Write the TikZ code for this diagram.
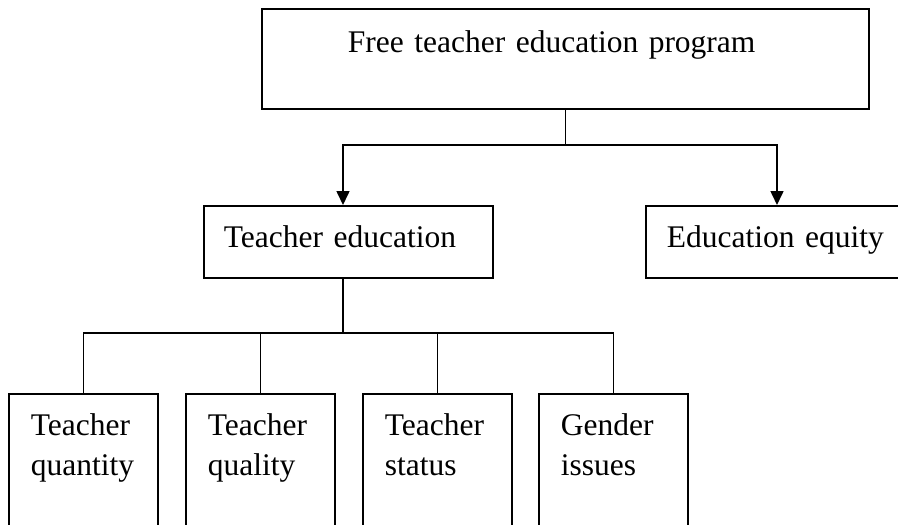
\documentclass[tikz,border=0pt]{standalone}
\usepackage{fontspec}
\setmainfont{Liberation Serif}
\usetikzlibrary{arrows.meta}
\begin{document}
\begin{tikzpicture}[x=1pt,y=-1pt,
		box/.style={draw,line width=1.8pt,anchor=north west,inner ysep=0pt,align=left,font=\fontsize{31.5}{40}\selectfont},
		link/.style={line width=1.6pt},
		arr/.style={link,-{Triangle[width=13pt,length=14pt]}}]
	\useasboundingbox (0,0) rectangle (898,525);

	\node[box,inner xsep=86pt,text width=435pt,text height=44pt,text depth=56pt] (prog) at (261,8) {Free teacher education program};
	\node[box,inner xsep=20pt,text width=249pt,text height=42pt,text depth=30pt] (tedu) at (203,205) {Teacher education};
	\node[box,inner xsep=21pt,text width=228pt,text height=42pt,text depth=30pt] (equity) at (645,205) {Education equity};

	\foreach \x/\name/\txt in {8/tqn/Teacher\\quantity, 185/tql/Teacher\\quality, 362/tst/Teacher\\status, 538/gen/Gender\\issues}
		\node[box,inner xsep=22pt,text width=105pt,text height=42pt,text depth=108pt] (\name) at (\x,393) {\txt};

	\draw[link] (prog.south) -- ++(0,35) coordinate (split);
	\draw[arr] (split) -| ([xshift=140pt]tedu.north west);
	\draw[arr] (split) -| ([xshift=132pt]equity.north west);

	\draw[link] ([xshift=140pt]tedu.south west) -- ++(0,54) coordinate (fork);
	\foreach \n in {tqn,tql,tst,gen}
		\draw[link] (fork) -| (\n.north);
\end{tikzpicture}
\end{document}
